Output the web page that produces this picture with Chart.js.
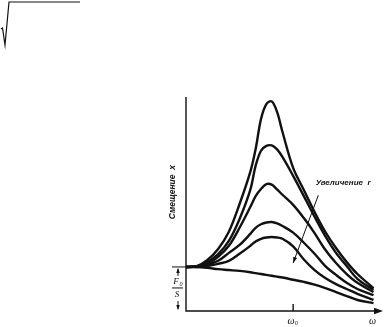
<!DOCTYPE html>
<html>
<head>
<meta charset="utf-8">
<script src="https://cdn.jsdelivr.net/npm/chart.js@4"></script>
<style>
  body { margin: 0; background: #fff; }
  #wrap { width: 387px; height: 327px; position: relative; }
</style>
</head>
<body>
<div id="wrap"><canvas id="myChart"></canvas></div>
<script>
const ctx = document.getElementById('myChart').getContext("2d");

// frequency (in units of w0)
const omega = [0, 0.1, 0.2, 0.3, 0.4, 0.5, 0.6, 0.65, 0.7, 0.75, 0.8, 0.85, 0.9, 1.0, 1.1, 1.2, 1.3, 1.4, 1.5, 1.6, 1.75];

// displacement (in units of F0/S), smallest damping first
const curve1 = [1.0, 1.02, 1.16, 1.41, 1.80, 2.43, 3.16, 3.68, 4.36, 4.70, 4.76, 4.52, 4.07, 3.25, 2.75, 2.25, 1.80, 1.43, 1.11, 0.84, 0.52];
const curve2 = [1.0, 1.01, 1.11, 1.29, 1.59, 2.09, 2.75, 3.30, 3.64, 3.75, 3.76, 3.67, 3.50, 3.07, 2.61, 2.14, 1.70, 1.32, 1.02, 0.73, 0.48];
const curve3 = [1.0, 1.01, 1.07, 1.23, 1.48, 1.89, 2.36, 2.61, 2.77, 2.88, 2.87, 2.76, 2.64, 2.41, 2.11, 1.77, 1.39, 1.09, 0.84, 0.64, 0.43];
const curve4 = [1.0, 1.01, 1.05, 1.14, 1.32, 1.50, 1.75, 1.89, 1.97, 2.01, 2.02, 1.99, 1.93, 1.78, 1.55, 1.30, 1.02, 0.82, 0.64, 0.50, 0.36];
const curve5 = [1.0, 1.0, 1.02, 1.07, 1.14, 1.30, 1.48, 1.58, 1.64, 1.67, 1.68, 1.67, 1.64, 1.47, 1.17, 0.93, 0.75, 0.61, 0.50, 0.39, 0.25];
const curveBig = [1.0, 1.0, 0.98, 0.95, 0.93, 0.91, 0.88, 0.86, 0.84, 0.82, 0.80, 0.78, 0.76, 0.71, 0.66, 0.60, 0.52, 0.43, 0.34, 0.25, 0.18];

const series = [curve1, curve2, curve3, curve4, curve5, curveBig];

const xMax = 1.82;
const yMax = 4.86;

const datasets = series.map(vals => ({
  data: vals.map((v, i) => ({ x: omega[i], y: v })),
  borderColor: "#111",
  borderWidth: 2.4,
  pointRadius: 0,
  tension: 0.35,
  fill: false,
}));

function arrowHead(c, x, y, dx, dy, size) {
  const len = Math.hypot(dx, dy);
  const ux = dx / len, uy = dy / len;
  c.beginPath();
  c.moveTo(x, y);
  c.lineTo(x - ux * size - uy * size * 0.35, y - uy * size + ux * size * 0.35);
  c.lineTo(x - ux * size + uy * size * 0.35, y - uy * size - ux * size * 0.35);
  c.closePath();
  c.fill();
}

// axes, labels and the rest of the drawing
const decor = {
  id: 'decor',
  afterDatasetsDraw(chart) {
    const c = chart.ctx;
    const xs = chart.scales.x, ys = chart.scales.y;
    const x0 = xs.getPixelForValue(0);
    const y0 = ys.getPixelForValue(0);
    const yTop = ys.getPixelForValue(yMax);
    const xEnd = xs.getPixelForValue(xMax);
    const yBase = ys.getPixelForValue(1);
    const xw0 = xs.getPixelForValue(1);
    c.save();
    c.strokeStyle = "#111";
    c.fillStyle = "#111";
    c.lineWidth = 1.4;

    // axes
    c.beginPath();
    c.moveTo(x0, yTop);
    c.lineTo(x0, y0);
    c.lineTo(xEnd - 2, y0);
    c.stroke();
    arrowHead(c, xEnd + 2, y0, 1, 0, 9);

    // w0 tick
    c.beginPath();
    c.moveTo(xw0, y0);
    c.lineTo(xw0, y0 - 7);
    c.stroke();

    // F0/S marker
    c.lineWidth = 1;
    c.beginPath();
    c.moveTo(x0 - 14, yBase);
    c.lineTo(x0, yBase);
    c.moveTo(x0 - 8, yBase + 2);
    c.lineTo(x0 - 8, yBase + 9);
    c.moveTo(x0 - 8, y0 - 10);
    c.lineTo(x0 - 8, y0 - 2);
    c.stroke();
    arrowHead(c, x0 - 8, yBase + 1, 0, -1, 5);
    arrowHead(c, x0 - 8, y0 - 1, 0, 1, 5);
    c.beginPath();
    c.moveTo(x0 - 14, yBase + 21);
    c.lineTo(x0 - 3, yBase + 21);
    c.stroke();

    c.font = "italic 9px 'Liberation Serif'";
    c.textAlign = "center";
    c.textBaseline = "middle";
    c.fillText("F", x0 - 10, yBase + 15);
    c.font = "italic 6px 'Liberation Serif'";
    c.fillText("0", x0 - 5, yBase + 17);
    c.font = "italic 9px 'Liberation Serif'";
    c.fillText("S", x0 - 9, yBase + 28);

    // x labels
    c.font = "italic 10px 'Liberation Serif'";
    c.fillText("\u03C9", xw0 - 2, y0 + 10);
    c.font = "italic 6px 'Liberation Serif'";
    c.fillText("0", xw0 + 3, y0 + 12);
    c.font = "italic 10px 'Liberation Serif'";
    c.fillText("\u03C9", xs.getPixelForValue(1.75) - 1, y0 + 10);

    // y title
    c.save();
    c.translate(x0 - 13, ys.getPixelForValue(2.7));
    c.rotate(-Math.PI / 2);
    c.font = "italic 600 8.5px 'Liberation Sans'";
    c.fillText("\u0421\u043C\u0435\u0449\u0435\u043D\u0438\u0435  x", 0, 0);
    c.restore();

    // annotation
    c.font = "italic 600 8px 'Liberation Sans'";
    c.textAlign = "left";
    c.fillText("\u0423\u0432\u0435\u043B\u0438\u0447\u0435\u043D\u0438\u0435  r", xs.getPixelForValue(1.21), ys.getPixelForValue(2.91));
    c.lineWidth = 1;
    const ax1 = xs.getPixelForValue(1.235), ay1 = ys.getPixelForValue(2.63);
    const ax2 = xs.getPixelForValue(1.0), ay2 = ys.getPixelForValue(1.09);
    c.beginPath();
    c.moveTo(ax1, ay1);
    c.lineTo(ax2, ay2);
    c.stroke();
    arrowHead(c, ax2, ay2, ax2 - ax1, ay2 - ay1, 6);

    // radical sign in the corner
    c.lineWidth = 1.2;
    c.beginPath();
    c.moveTo(1, 29);
    c.lineTo(2.5, 28);
    c.lineTo(5, 45);
    c.lineTo(9, 2);
    c.lineTo(80, 2);
    c.stroke();
    c.restore();
  }
};

const config = {
  type: 'line',
  data: { datasets },
  options: {
    responsive: true,
    maintainAspectRatio: false,
    animation: false,
    layout: { padding: { left: 186, right: 6, top: 97, bottom: 16 } },
    plugins: { legend: { display: false }, tooltip: { enabled: false } },
    scales: {
      x: { type: 'linear', min: 0, max: xMax, display: false },
      y: { min: 0, max: yMax, display: false },
    },
  },
  plugins: [decor],
};

const myChart = new Chart(ctx, config);
</script>
</body>
</html>
